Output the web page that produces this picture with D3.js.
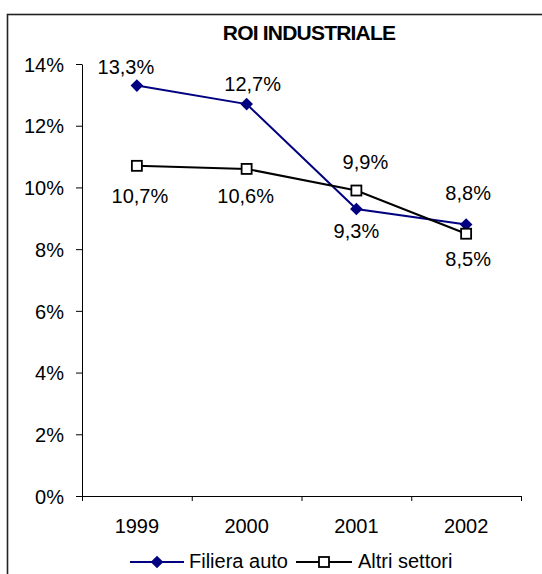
<!DOCTYPE html>
<html>
<head>
<meta charset="utf-8">
<script src="https://cdn.jsdelivr.net/npm/d3@7"></script>
<style>
  body { margin: 0; background: #fff; }
  svg text { font-family: Arial, "Liberation Sans", sans-serif; fill: #000; }
</style>
</head>
<body>
<script>
// data
const years = ["1999", "2000", "2001", "2002"];
const filieraAuto = [0.133, 0.127, 0.093, 0.088];
const altriSettori = [0.107, 0.106, 0.099, 0.085];
const yTicks = [0, 0.02, 0.04, 0.06, 0.08, 0.1, 0.12, 0.14];
const title = "ROI INDUSTRIALE";
const seriesNames = ["Filiera auto", "Altri settori"];

// label nudges (dx, dy from the point), as placed in the original
const filieraNudge = [[-11, -12], [6, -13], [0, 29], [2, -24]];
const altriNudge = [[3, 37], [-1, 34], [9, -22], [2, 32]];

const w = 542;
const h = 574;
const plotLeft = 82, plotRight = 521, plotTop = 64, plotBottom = 496;
const fs = "20px";
const fmtPct = (v) => d3.format(".1f")(v * 100).replace(".", ",") + "%";

const svg = d3.select("body").append("svg")
  .attr("width", w)
  .attr("height", h);

// outer frame (runs off the right and bottom edges)
svg.append("rect")
  .attr("x", 7.5).attr("y", 14.5)
  .attr("width", 620).attr("height", 620)
  .attr("fill", "none")
  .attr("stroke", "#222")
  .attr("stroke-width", 1.6);

svg.append("text")
  .attr("x", 309).attr("y", 40)
  .attr("text-anchor", "middle")
  .attr("font-size", "21px")
  .attr("font-weight", "bold")
  .attr("letter-spacing", "-0.8px")
  .text(title);

const xScale = d3.scaleBand().domain(years).range([plotLeft, plotRight]).padding(0);
const xEdge = d3.scaleLinear().domain([0, years.length]).range([plotLeft, plotRight]);
const yScale = d3.scaleLinear().domain([0, 0.14]).range([plotBottom, plotTop]);

// y axis
const yAxis = d3.axisLeft(yScale)
  .tickValues(yTicks)
  .tickFormat(d3.format(".0%"))
  .tickSize(6)
  .tickSizeOuter(0)
  .tickPadding(12);
const gy = svg.append("g")
  .attr("transform", "translate(" + plotLeft + ",0)")
  .call(yAxis);
gy.selectAll("text").attr("font-size", fs).attr("dy", "0.36em");

// x axis: ticks on the category edges, labels at the centres
svg.append("g")
  .attr("transform", "translate(0," + plotBottom + ")")
  .call(d3.axisBottom(xEdge).ticks(years.length).tickSize(5).tickSizeOuter(5).tickFormat(""));
const gx = svg.append("g")
  .attr("transform", "translate(0," + plotBottom + ")")
  .call(d3.axisBottom(xScale).tickSize(0).tickPadding(23));
gx.select(".domain").remove();
gx.selectAll("text").attr("font-size", fs);

svg.selectAll(".domain, .tick line").attr("stroke", "#000").attr("stroke-width", 1);

const cx = (d, i) => xScale(years[i]) + xScale.bandwidth() / 2;
const line = d3.line().x(cx).y((d) => yScale(d));
const diamond = d3.symbol().type(d3.symbolSquare).size(80);

function labels(vals, nudge, cls) {
  svg.selectAll("." + cls)
    .data(vals)
    .enter()
    .append("text")
    .attr("class", cls)
    .attr("x", (d, i) => cx(d, i) + nudge[i][0])
    .attr("y", (d, i) => yScale(d) + nudge[i][1])
    .attr("text-anchor", "middle")
    .attr("font-size", fs)
    .text(fmtPct);
}

// Filiera auto
svg.append("path")
  .datum(filieraAuto)
  .attr("d", line)
  .attr("fill", "none")
  .attr("stroke", "#000080")
  .attr("stroke-width", 2);
svg.selectAll(".dia")
  .data(filieraAuto)
  .enter()
  .append("path")
  .attr("class", "dia")
  .attr("d", diamond)
  .attr("transform", (d, i) => "translate(" + cx(d, i) + "," + yScale(d) + ") rotate(45)")
  .attr("fill", "#000080");

// Altri settori
svg.append("path")
  .datum(altriSettori)
  .attr("d", line)
  .attr("fill", "none")
  .attr("stroke", "#000")
  .attr("stroke-width", 2);
svg.selectAll(".sq")
  .data(altriSettori)
  .enter()
  .append("rect")
  .attr("class", "sq")
  .attr("x", (d, i) => cx(d, i) - 5)
  .attr("y", (d) => yScale(d) - 5)
  .attr("width", 10)
  .attr("height", 10)
  .attr("fill", "#fff")
  .attr("stroke", "#000")
  .attr("stroke-width", 1.8);

labels(filieraAuto, filieraNudge, "lab-f");
labels(altriSettori, altriNudge, "lab-a");

// legend
const ly = 562;
const lg = svg.append("g");
lg.append("line").attr("x1", 130).attr("x2", 184).attr("y1", ly).attr("y2", ly)
  .attr("stroke", "#000080").attr("stroke-width", 2);
lg.append("path")
  .attr("d", diamond)
  .attr("transform", "translate(157," + ly + ") rotate(45)")
  .attr("fill", "#000080");
lg.append("text").attr("x", 189).attr("y", ly + 6).attr("font-size", fs).text(seriesNames[0]);
lg.append("line").attr("x1", 296).attr("x2", 352).attr("y1", ly).attr("y2", ly)
  .attr("stroke", "#000").attr("stroke-width", 2);
lg.append("rect").attr("x", 319).attr("y", ly - 5).attr("width", 10).attr("height", 10)
  .attr("fill", "#fff").attr("stroke", "#000").attr("stroke-width", 1.8);
lg.append("text").attr("x", 358).attr("y", ly + 6).attr("font-size", fs).text(seriesNames[1]);
</script>
</body>
</html>
